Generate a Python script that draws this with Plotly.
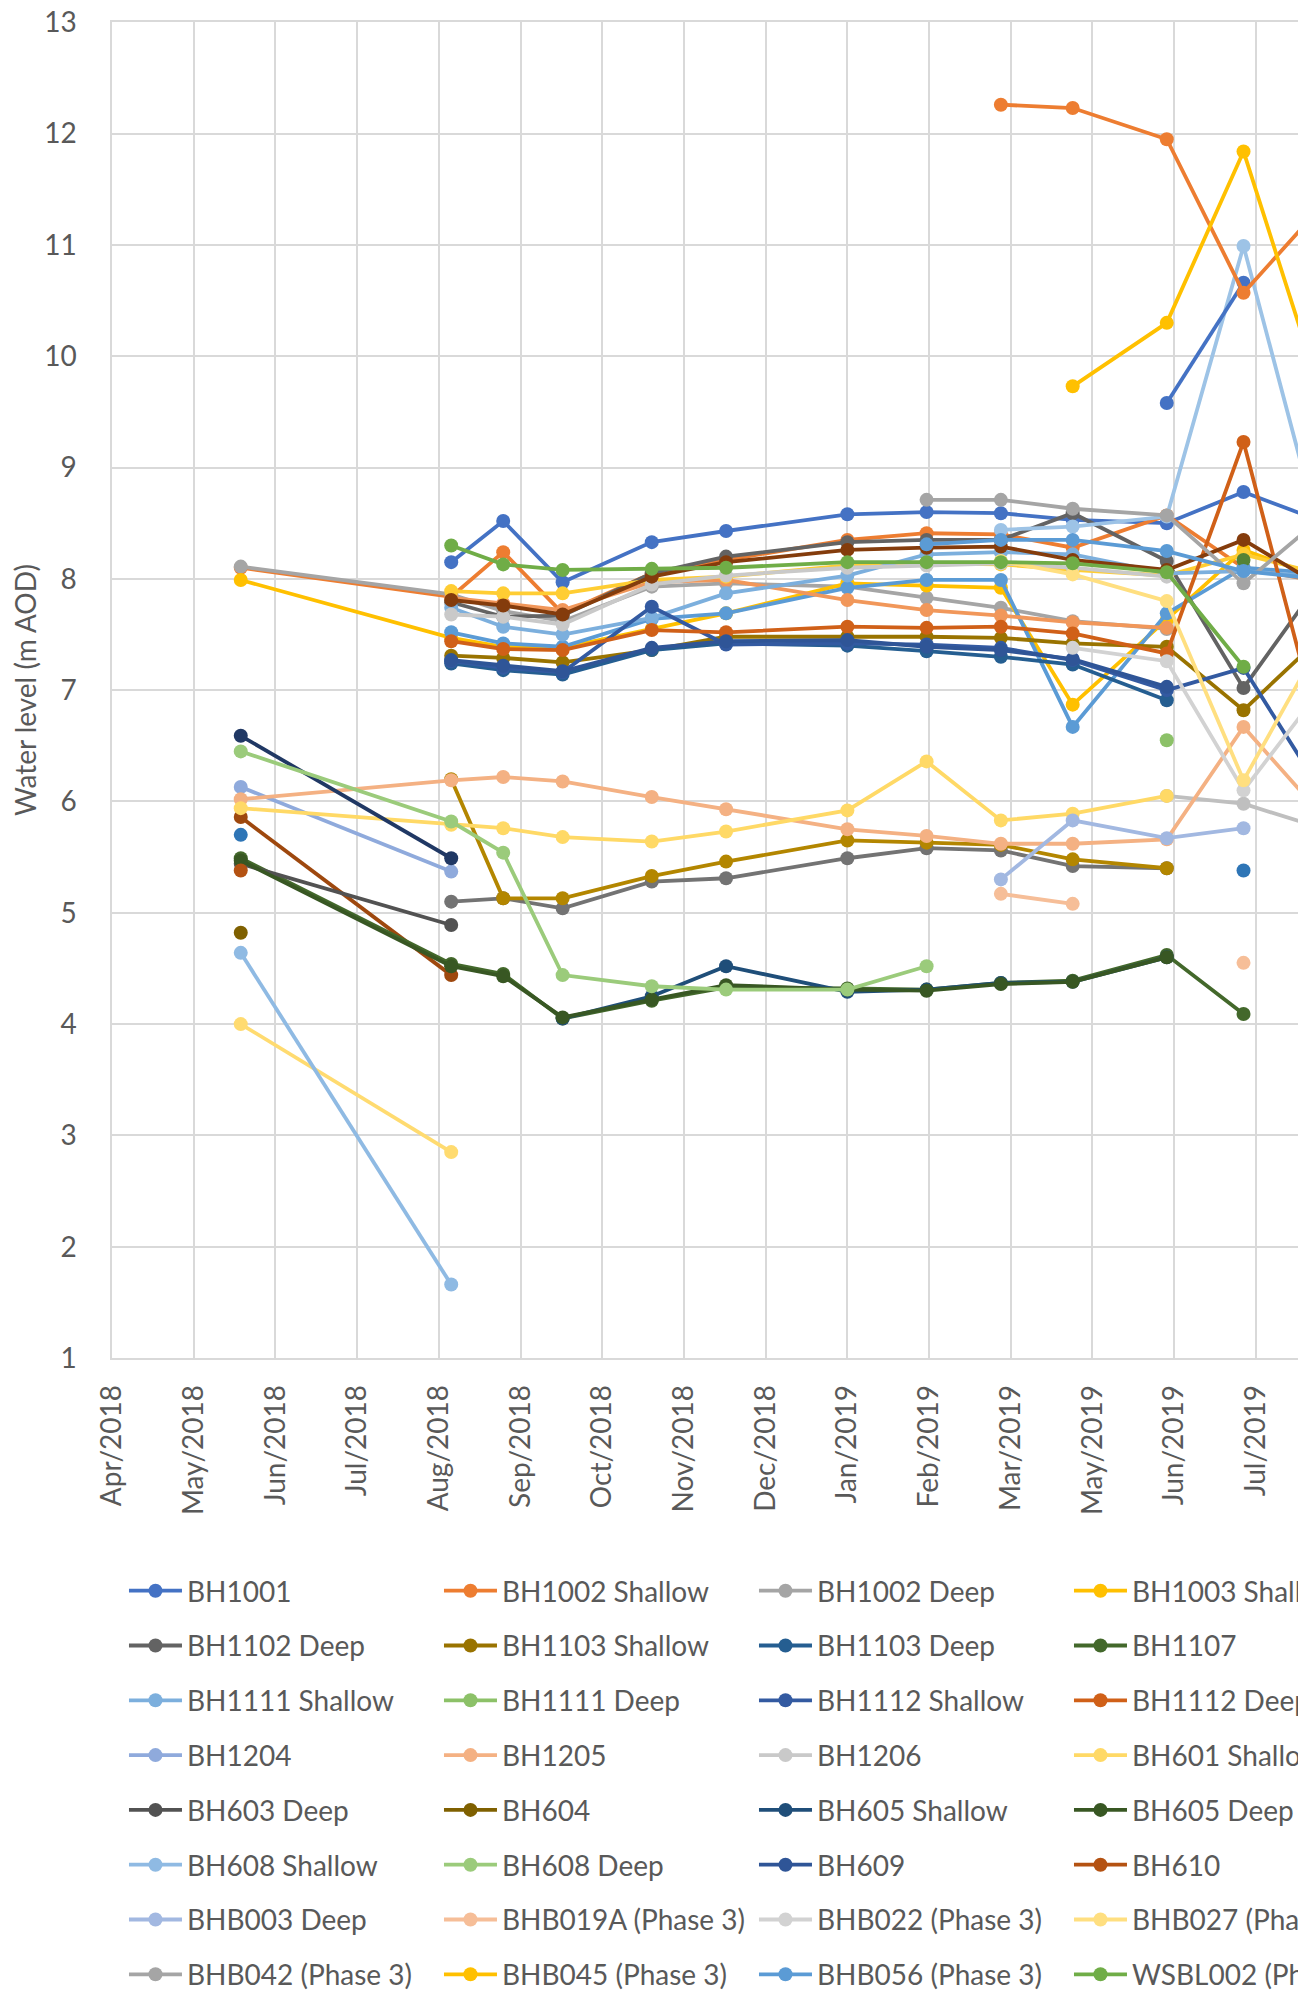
import plotly.graph_objects as go

N = None

# Sampling dates (the last one lies just beyond the visible edge of the chart)
DATES = ["2018-05-23", "2018-08-16", "2018-09-06", "2018-09-30", "2018-11-05", "2018-12-05",
         "2019-01-23", "2019-02-24", "2019-03-26", "2019-04-24", "2019-06-01", "2019-07-02",
         "2019-08-01"]

# ---- series shown in the (visible part of the) legend ----
BH1001 = [N, 8.15, 8.52, 7.97, 8.33, 8.43, 8.58, 8.60, 8.59, 8.53, 8.50, 8.78, 8.53]
BH1002_SHALLOW = [8.10, 7.84, 8.24, 7.69, 8.05, 8.17, 8.35, 8.41, 8.40, 8.28, 8.57, 8.10, 7.98]
BH1002_DEEP = [8.11, 7.86, 7.71, 7.62, 7.93, 7.96, 7.93, 7.83, 7.74, 7.62, 7.55, N, N]
BH1003_SHALLOW = [7.99, 7.47, 7.39, 7.38, 7.55, 7.69, 7.96, 7.94, 7.92, 6.87, 7.63, 8.26, 8.02]
BH1102_DEEP = [N, 7.79, 7.66, 7.67, 8.05, 8.20, 8.33, 8.35, 8.35, 8.59, 8.16, 7.02, 7.95]
BH1103_SHALLOW = [N, 7.31, 7.29, 7.25, 7.36, 7.48, 7.48, 7.48, 7.47, 7.42, 7.39, 6.82, 7.45]
BH1103_DEEP = [N, 7.24, 7.18, 7.14, 7.36, 7.42, 7.40, 7.35, 7.30, 7.23, 6.91, N, N]
BH1107 = [5.49, 4.54, 4.45, 4.05, 4.21, 4.33, 4.32, 4.31, 4.37, 4.39, 4.62, 4.09, N]
BH1111_SHALLOW = [N, 7.74, 7.57, 7.50, 7.65, 7.87, 8.03, 8.22, 8.24, 8.22, 8.05, 8.07, 8.02]
BH1111_DEEP = [N, N, N, N, N, N, N, N, N, N, 6.55, N, N]
BH1112_SHALLOW = [N, 7.26, 7.20, 7.16, 7.75, 7.41, 7.42, 7.41, 7.38, 7.27, 7.00, 7.20, 6.14]
BH1112_DEEP = [N, 7.44, 7.37, 7.36, 7.54, 7.52, 7.57, 7.56, 7.57, 7.51, 7.33, 9.23, 6.68]
BH1204 = [6.13, 5.37, N, N, N, N, N, N, N, N, N, N, N]
BH1205 = [6.02, 6.19, 6.22, 6.18, 6.04, 5.93, 5.75, 5.69, 5.62, 5.62, 5.66, 6.67, 5.92]
BH1206 = [N, 7.68, 7.66, 7.59, 7.95, 8.03, 8.10, 8.12, 8.14, 8.10, 8.02, N, N]
BH601_SHALLOW = [5.94, 5.79, 5.76, 5.68, 5.64, 5.73, 5.92, 6.36, 5.83, 5.89, 6.05, N, N]
BH603_DEEP = [5.44, 4.89, N, N, N, N, N, N, N, N, N, N, N]
BH604 = [4.82, N, N, N, N, N, N, N, N, N, N, N, N]
BH605_SHALLOW = [N, N, N, 4.05, 4.25, 4.52, 4.29, 4.31, 4.37, 4.38, 4.60, N, N]
BH605_DEEP = [5.47, 4.52, 4.43, 4.06, 4.22, 4.35, 4.31, 4.30, 4.36, 4.38, 4.60, N, N]
BH608_SHALLOW = [4.64, 1.66, N, N, N, N, N, N, N, N, N, N, N]
BH608_DEEP = [6.45, 5.82, 5.54, 4.44, 4.34, 4.31, 4.31, 4.52, N, N, N, N, N]
BH609 = [N, 7.27, 7.22, 7.17, 7.38, 7.44, 7.45, 7.39, 7.36, 7.28, 7.03, N, N]
BH610 = [5.38, N, N, N, N, N, N, N, N, N, N, N, N]
BHB003_DEEP = [N, N, N, N, N, N, N, N, 5.30, 5.83, 5.67, 5.76, N]
BHB019A = [N, N, N, N, N, N, N, N, 5.17, 5.08, N, 4.55, N]
BHB022 = [N, N, N, N, N, N, N, N, N, 7.38, 7.26, 6.10, 6.97]
BHB027 = [N, N, N, N, N, N, N, N, 8.16, 8.04, 7.80, 6.19, 7.38]
BHB042 = [N, N, N, N, N, N, N, 8.71, 8.71, 8.63, 8.57, 7.96, 8.52]
BHB045 = [N, N, N, N, N, N, N, N, N, 9.73, 10.30, 11.84, 9.75]
BHB056 = [N, N, N, N, N, N, N, 8.31, 8.35, 8.35, 8.25, 8.07, 8.00]
WSBL002 = [N, 8.30, 8.13, 8.08, 8.09, 8.10, 8.15, 8.15, 8.15, 8.14, 8.06, 7.21, N]

# ---- series whose legend entries fall outside the visible crop ----
S05 = [N, 7.52, 7.42, 7.39, 7.64, 7.69, 7.92, 7.99, 7.99, 6.67, 7.69, 8.10, 8.05]
S08 = [5.86, 4.44, N, N, N, N, N, N, N, N, N, N, N]
S14 = [N, 7.83, 7.78, 7.72, 7.97, 7.99, 7.81, 7.72, 7.67, 7.61, 7.56, N, N]
S15 = [N, N, N, N, N, N, N, N, N, N, 6.05, 5.98, 5.77]
S16 = [N, 7.89, 7.87, 7.87, 7.99, 8.02, 8.12, 8.14, 8.13, 8.08, 8.03, 8.22, 8.05]
S21 = [N, 5.10, 5.13, 5.04, 5.28, 5.31, 5.49, 5.58, 5.56, 5.42, 5.40, N, N]
S22 = [N, 6.20, 5.13, 5.13, 5.33, 5.46, 5.65, 5.63, 5.61, 5.48, 5.40, N, N]
S23 = [5.70, N, N, N, N, N, N, N, N, N, N, 5.38, N]
S24 = [N, N, N, N, N, N, N, N, N, N, N, 8.17, N]
S29 = [N, N, N, N, N, N, N, N, 8.44, 8.47, 8.56, 10.99, 8.47]
S31 = [6.59, 5.49, N, N, N, N, N, N, N, N, N, N, N]
S32 = [N, 7.81, 7.76, 7.68, 8.02, 8.15, 8.26, 8.28, 8.29, 8.17, 8.08, 8.35, 7.95]
S40 = [4.00, 2.85, N, N, N, N, N, N, N, N, N, N, N]
S55 = [N, N, N, N, N, N, N, N, N, N, 9.58, 10.66, N]
S56 = [N, N, N, N, N, N, N, N, 12.26, 12.23, 11.95, 10.57, 11.31]

# (name, values, colour, visible legend column or None) in plotting order
TRACES = [
    ("BH1001", BH1001, "#4472C4", 0),
    ("BH1002 Shallow", BH1002_SHALLOW, "#ED7D31", 1),
    ("BH1002 Deep", BH1002_DEEP, "#A5A5A5", 2),
    ("BH1003 Shallow", BH1003_SHALLOW, "#FFC000", 3),
    ("s05", S05, "#5B9BD5", None),
    ("s08", S08, "#9E480E", None),
    ("BH1102 Deep", BH1102_DEEP, "#636363", 0),
    ("BH1103 Shallow", BH1103_SHALLOW, "#997300", 1),
    ("BH1103 Deep", BH1103_DEEP, "#255E91", 2),
    ("BH1107", BH1107, "#43682B", 3),
    ("s14", S14, "#F1975A", None),
    ("s15", S15, "#BFBFBF", None),
    ("s16", S16, "#FFCD33", None),
    ("BH1111 Shallow", BH1111_SHALLOW, "#7CAFDD", 0),
    ("BH1111 Deep", BH1111_DEEP, "#8CC168", 1),
    ("BH1112 Shallow", BH1112_SHALLOW, "#335AA1", 2),
    ("BH1112 Deep", BH1112_DEEP, "#D06018", 3),
    ("s21", S21, "#737373", None),
    ("s22", S22, "#B38600", None),
    ("s23", S23, "#2E75B6", None),
    ("s24", S24, "#548235", None),
    ("BH1204", BH1204, "#8FAADC", 0),
    ("BH1205", BH1205, "#F4B183", 1),
    ("BH1206", BH1206, "#C9C9C9", 2),
    ("BH601 Shallow", BH601_SHALLOW, "#FFD966", 3),
    ("s29", S29, "#9DC3E6", None),
    ("s31", S31, "#203864", None),
    ("s32", S32, "#843C0C", None),
    ("BH603 Deep", BH603_DEEP, "#525252", 0),
    ("BH604", BH604, "#7F6000", 1),
    ("BH605 Shallow", BH605_SHALLOW, "#1F4E79", 2),
    ("BH605 Deep", BH605_DEEP, "#385723", 3),
    ("s40", S40, "#FFDB70", None),
    ("BH608 Shallow", BH608_SHALLOW, "#8FBAE3", 0),
    ("BH608 Deep", BH608_DEEP, "#9BCB7B", 1),
    ("BH609", BH609, "#2F5597", 2),
    ("BH610", BH610, "#B45212", 3),
    ("BHB003 Deep", BHB003_DEEP, "#A2B8E1", 0),
    ("BHB019A (Phase 3)", BHB019A, "#F6BE98", 1),
    ("BHB022 (Phase 3)", BHB022, "#D2D2D2", 2),
    ("BHB027 (Phase 3)", BHB027, "#FFDF80", 3),
    ("s55", S55, "#4472C4", None),
    ("s56", S56, "#ED7D31", None),
    ("BHB042 (Phase 3)", BHB042, "#A5A5A5", 0),
    ("BHB045 (Phase 3)", BHB045, "#FFC000", 1),
    ("BHB056 (Phase 3)", BHB056, "#5B9BD5", 2),
    ("WSBL002 (Phase 3)", WSBL002, "#70AD47", 3),
]

LEGEND_IDS = ["legend", "legend2", "legend3", "legend4"]
LEGEND_X = [0.0101, 0.2757, 0.5413, 0.8069]

FONT = "Lato, Carlito, Calibri, sans-serif"
TEXT = "#595959"
GRID = "#D9D9D9"

fig = go.Figure()
for name, vals, color, col in TRACES:
    extra = dict(showlegend=False)
    if col is not None:
        extra = dict(showlegend=True, legend=LEGEND_IDS[col], legendgroup=name)
    fig.add_trace(go.Scatter(
        x=DATES, y=vals, name=name, mode="lines+markers",
        line=dict(color=color, width=3.8),
        marker=dict(color=color, size=14),
        connectgaps=False, hoverinfo="skip", **extra))

fig.update_layout(
    width=1290, height=1982,
    margin=dict(l=104, r=0, t=14, b=632, autoexpand=False),
    paper_bgcolor="white", plot_bgcolor="white",
    font=dict(family=FONT, size=28, color=TEXT),
    hovermode=False,
    xaxis=dict(type="date", range=["2018-04-01", "2019-07-24"],
               tick0="2018-04-01", dtick=33 * 86400000, tickformat="%b/%Y",
               tickangle=-90, ticks="", ticklabelstandoff=14,
               showgrid=True, gridcolor=GRID, gridwidth=1.5,
               showline=True, linecolor=GRID, linewidth=1.5, mirror=True,
               zeroline=False, tickfont=dict(family=FONT, size=28, color=TEXT)),
    yaxis=dict(range=[1, 13.003], tick0=1, dtick=1, ticks="", ticklabelstandoff=28,
               ticklabeloverflow="allow",
               showgrid=True, gridcolor=GRID, gridwidth=1.5,
               showline=True, linecolor=GRID, linewidth=1.5,
               zeroline=False, tickfont=dict(family=FONT, size=28, color=TEXT),
               title=dict(text="Water level (m AOD)", standoff=8,
                          font=dict(family=FONT, size=28, color=TEXT))),
)

for lid, lx in zip(LEGEND_IDS, LEGEND_X):
    fig.update_layout({lid: dict(
        orientation="v", x=lx, y=-0.1557, xanchor="left", yanchor="top",
        itemwidth=53, tracegroupgap=15.4, bgcolor="rgba(0,0,0,0)", borderwidth=0,
        font=dict(family=FONT, size=28, color=TEXT),
        itemclick=False, itemdoubleclick=False)})

fig.write_html("out.html", post_script="document.body.style.overflow='hidden';")
